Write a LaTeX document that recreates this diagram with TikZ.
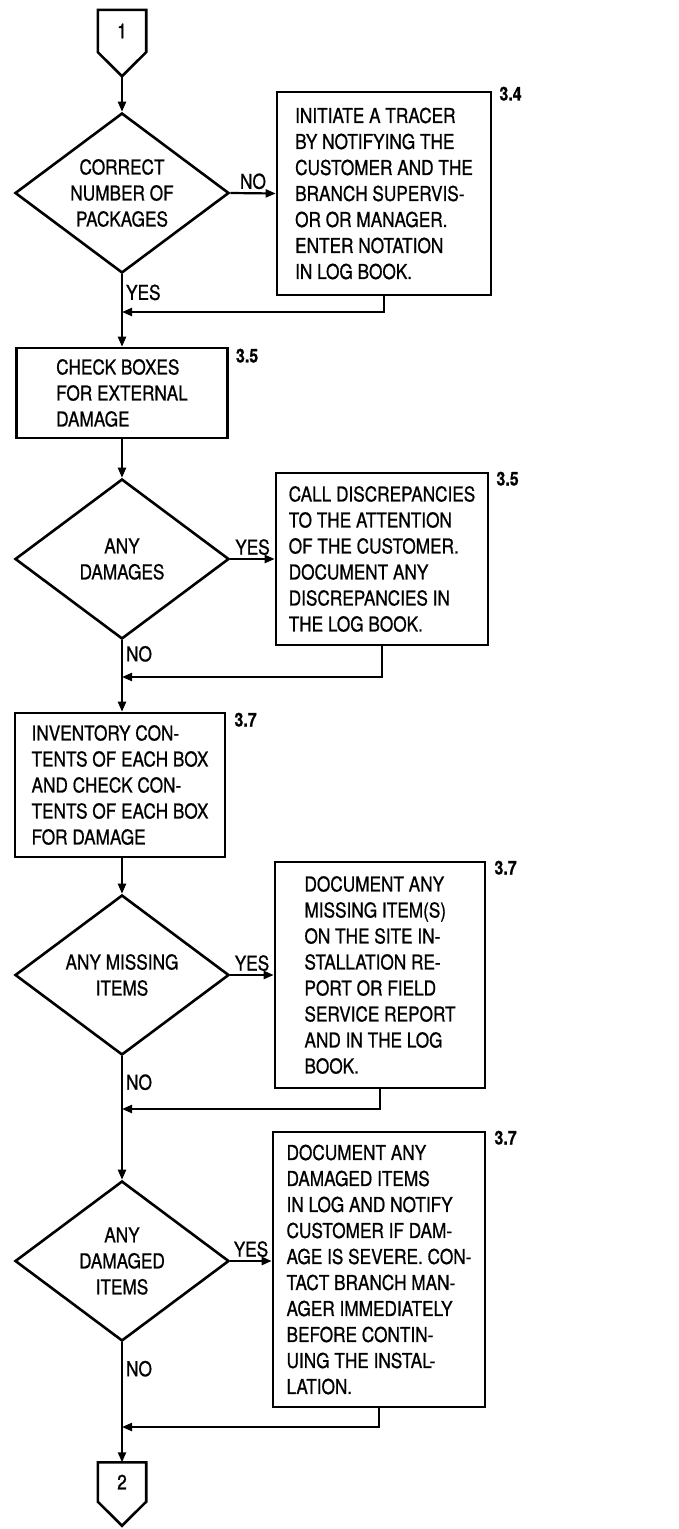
\documentclass[tikz,border=0pt]{standalone}
\usepackage{fontspec}
\setmainfont[FakeStretch=0.84,FakeBold=0.8]{TeX Gyre Heros}
\usetikzlibrary{shapes.geometric,arrows.meta,calc,positioning}

\begin{document}
\begin{tikzpicture}[x=1pt, y=1pt,
  every node/.style={font=\fontsize{20.5}{26}\selectfont},
  decision/.style={draw, diamond, aspect=1.4, inner sep=0pt, line width=2.6pt,
    minimum width=214pt, minimum height=160pt, align=center},
  procbox/.style={draw, rectangle, inner sep=0pt, line width=2.6pt, align=left},
  offpage/.style={rectangle, minimum width=48pt, inner sep=0pt},
  ref/.style={anchor=west, inner sep=0pt, font=\fontsize{19}{20}\selectfont\bfseries},
  answer/.style={inner sep=3pt},
  flow/.style={line width=2.2pt, -{Triangle[length=10pt,width=8pt]}}
]
% page frame, so the margins stay as in the original sheet
\fill[white] (0,0) rectangle (678,-1529);
\useasboundingbox (0,0) rectangle (678,-1529);

% off-page connector at the top
\node[offpage, minimum height=42pt] (c1) at (122,-31) {1};
\draw[line width=2.6pt] (c1.north west) -- (c1.north east) -- (c1.south east)
  -- ($(c1.south)+(0,-24)$) coordinate (c1tip) -- (c1.south west) -- cycle;

% main column: decisions and checks
\node[decision] (d1) at (122,-193) {CORRECT\\NUMBER OF\\PACKAGES};
\node[procbox, minimum width=211pt, minimum height=90pt] (bcheck) at (122,-393)
  {CHECK BOXES\\FOR EXTERNAL\\DAMAGE};
\node[decision] (d2) at (122,-559) {ANY\\DAMAGES};
\node[procbox, minimum width=210pt, minimum height=144pt] (binv) at (120,-785)
  {INVENTORY CON-\\TENTS OF EACH BOX\\AND CHECK CON-\\TENTS OF EACH BOX\\FOR DAMAGE};
\node[decision] (d3) at (122,-975) {ANY MISSING\\ITEMS};
\node[decision] (d4) at (122,-1261) {ANY\\DAMAGED\\ITEMS};

% off-page connector at the bottom
\node[offpage, minimum height=39pt] (c2) at (122,-1482) {2};
\draw[line width=2.6pt] (c2.north west) -- (c2.north east) -- (c2.south east)
  -- ($(c2.south)+(0,-24)$) -- (c2.south west) -- cycle;

% side column: what to do when something is wrong
\node[procbox, minimum width=214pt, minimum height=203pt] (b34) at (384,-193.5)
  {INITIATE A TRACER\\BY NOTIFYING THE\\CUSTOMER AND THE\\BRANCH SUPERVIS-\\OR OR MANAGER.\\ENTER NOTATION\\IN LOG BOOK.};
\node[procbox, minimum width=212pt, minimum height=172pt] (bdisc) at (382,-559)
  {CALL DISCREPANCIES\\TO THE ATTENTION\\OF THE CUSTOMER.\\DOCUMENT ANY\\DISCREPANCIES IN\\THE LOG BOOK.};
\node[procbox, minimum width=210pt, minimum height=226pt] (bmiss) at (380,-975)
  {DOCUMENT ANY\\MISSING ITEM(S)\\ON THE SITE IN-\\STALLATION RE-\\PORT OR FIELD\\SERVICE REPORT\\AND IN THE LOG\\BOOK.};
\node[procbox, minimum width=212pt, minimum height=275pt] (bdam) at (379,-1269.5)
  {DOCUMENT ANY\\DAMAGED ITEMS\\IN LOG AND NOTIFY\\CUSTOMER IF DAM-\\AGE IS SEVERE. CON-\\TACT BRANCH MAN-\\AGER IMMEDIATELY\\BEFORE CONTIN-\\UING THE INSTAL-\\LATION.};

% paragraph numbers beside the boxes
\node[ref] at ($(b34.north east)+(7,-3)$) {3.4};
\node[ref] at ($(bcheck.north east)+(7,-9)$) {3.5};
\node[ref] at ($(bdisc.north east)+(7,-7)$) {3.5};
\node[ref] at ($(binv.north east)+(8,-8)$) {3.7};
\node[ref] at ($(bmiss.north east)+(8,-7)$) {3.7};
\node[ref] at ($(bdam.north east)+(8,-7)$) {3.7};

% where the side branches join the main line again
\coordinate (j1) at (122,-312);
\coordinate (j2) at (122,-677);
\coordinate (j3) at (122,-1109);
\coordinate (j4) at (122,-1427);

% connectors
\draw[flow] (c1tip) -- (d1.north);
\draw[flow] (d1.east) -- node[above, answer] {NO} (b34.west);
\draw[flow] (d1.south) -- node[pos=0.25, right, answer] {YES} (bcheck.north);
\draw[flow] (b34.south) |- (j1);
\draw[flow] (bcheck.south) -- (d2.north);
\draw[flow] (d2.east) -- node[above, answer] {YES} (bdisc.west);
\draw[flow] (d2.south) -- node[pos=0.19, right, answer] {NO} (d2.south |- binv.north);
\draw[flow] (bdisc.south) |- (j2);
\draw[flow] (binv.south -| d3.north) -- (d3.north);
\draw[flow] (d3.east) -- node[above, answer] {YES} (bmiss.west);
\draw[flow] (d3.south) -- node[pos=0.21, right, answer] {NO} (d4.north);
\draw[flow] (bmiss.south) |- (j3);
\draw[flow] (d4.east) -- node[above, answer] {YES} (bdam.west |- d4.east);
\draw[flow] (d4.south) -- node[pos=0.22, right, answer] {NO} (c2.north);
\draw[flow] (bdam.south) |- (j4);
\end{tikzpicture}
\end{document}
